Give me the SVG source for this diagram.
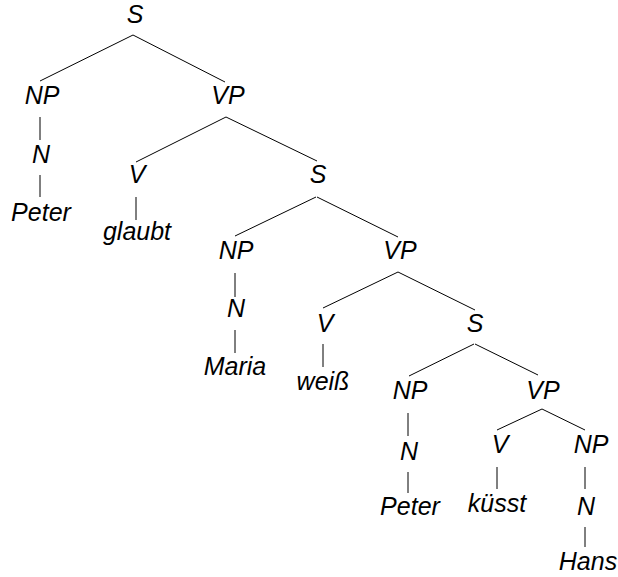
<svg xmlns="http://www.w3.org/2000/svg" width="618" height="577" viewBox="0 0 618 577">
<style>
text{font-family:"Liberation Sans",Arial,sans-serif;font-style:italic;font-size:25px;fill:#000;text-anchor:middle}
.e line{stroke:#000;stroke-width:1}
</style>
<rect width="618" height="577" fill="#fff"/>
<g class="e" id="edges">
<line x1="133" y1="35" x2="40" y2="81"/>
<line x1="133" y1="35" x2="225" y2="82"/>
<line x1="40" y1="117" x2="40" y2="140"/>
<line x1="40" y1="175" x2="40" y2="197"/>
<line x1="226" y1="117" x2="136" y2="162"/>
<line x1="226" y1="117" x2="317" y2="161"/>
<line x1="136" y1="197" x2="136" y2="220"/>
<line x1="316" y1="197" x2="235" y2="236"/>
<line x1="317" y1="197" x2="398" y2="237"/>
<line x1="235" y1="273" x2="235" y2="297"/>
<line x1="235" y1="330" x2="235" y2="353"/>
<line x1="398" y1="272" x2="323" y2="308"/>
<line x1="398" y1="272" x2="475" y2="310"/>
<line x1="323" y1="344" x2="323" y2="367"/>
<line x1="474" y1="344" x2="409" y2="376"/>
<line x1="475" y1="344" x2="538" y2="375"/>
<line x1="408" y1="413" x2="408" y2="436"/>
<line x1="408" y1="472" x2="408" y2="493"/>
<line x1="542" y1="409" x2="497" y2="430"/>
<line x1="542" y1="409" x2="585" y2="430"/>
<line x1="497" y1="467" x2="497" y2="489"/>
<line x1="585" y1="467" x2="585" y2="489"/>
<line x1="585" y1="527" x2="585" y2="547"/>
</g>
<g id="n1"><text x="135" y="23">S</text></g>
<g id="n2"><text x="42" y="104">NP</text></g>
<g id="n3"><text x="228" y="104">VP</text></g>
<g id="n4"><text x="41" y="163">N</text></g>
<g id="n5"><text x="41" y="221">Peter</text></g>
<g id="n6"><text x="137" y="183">V</text></g>
<g id="n7"><text x="137" y="240">glaubt</text></g>
<g id="n8"><text x="318" y="183">S</text></g>
<g id="n9"><text x="236" y="259">NP</text></g>
<g id="n10"><text x="400" y="259">VP</text></g>
<g id="n11"><text x="236" y="317">N</text></g>
<g id="n12"><text x="235" y="375">Maria</text></g>
<g id="n13"><text x="325" y="332">V</text></g>
<g id="n14"><text x="323" y="390">weiß</text></g>
<g id="n15"><text x="475" y="332">S</text></g>
<g id="n16"><text x="410" y="399">NP</text></g>
<g id="n17"><text x="543" y="399">VP</text></g>
<g id="n18"><text x="409" y="460">N</text></g>
<g id="n19"><text x="410" y="515">Peter</text></g>
<g id="n20"><text x="500" y="453">V</text></g>
<g id="n21"><text x="497" y="512">küsst</text></g>
<g id="n22"><text x="591" y="453">NP</text></g>
<g id="n23"><text x="586" y="515">N</text></g>
<g id="n24"><text x="588" y="570">Hans</text></g>
</svg>
